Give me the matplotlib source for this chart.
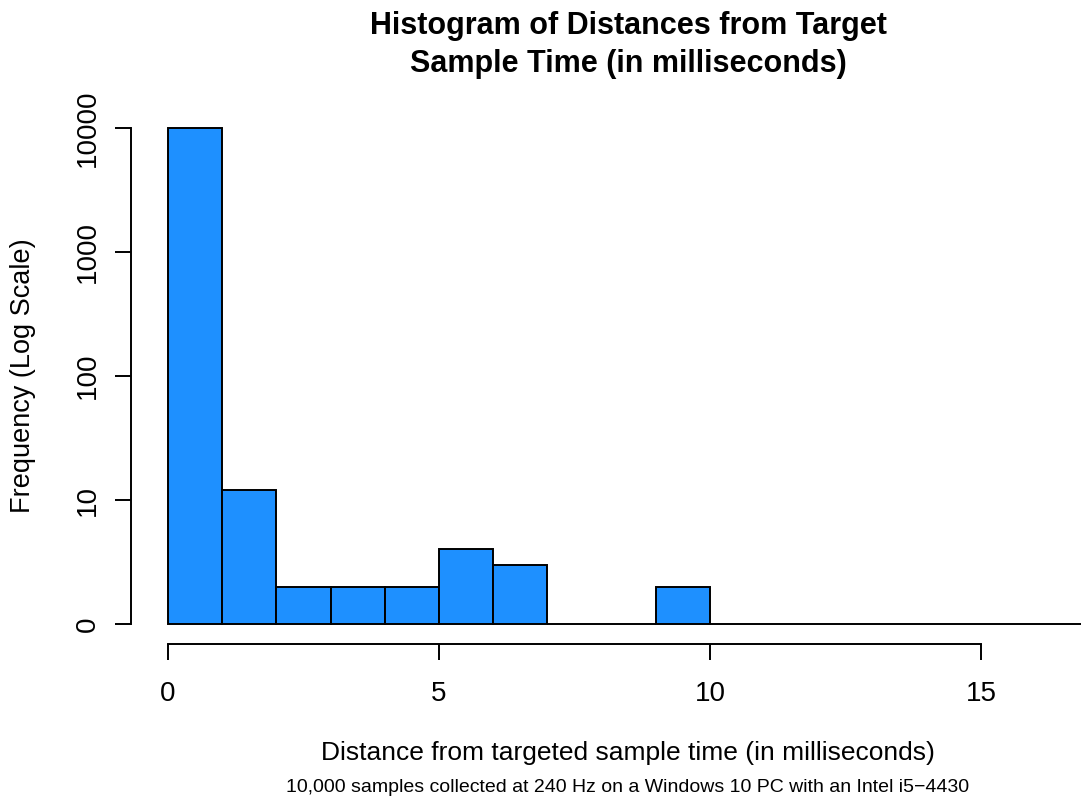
import matplotlib
matplotlib.use("Agg")
import matplotlib.pyplot as plt
import numpy as np

# Histogram data: 1 ms bins from 0 to 17 ms
bin_edges = list(range(0, 18))
counts = [9973, 12, 2, 2, 2, 4, 3, 0, 0, 2, 0, 0, 0, 0, 0, 0, 0]
y_ticks = [0, 1, 2, 3, 4]
y_tick_labels = ["0", "10", "100", "1000", "10000"]
x_ticks = [0, 5, 10, 15]

BAR_COLOR = "#1E90FF"
FONT = "Liberation Sans"

plt.rcParams.update({
    "font.family": FONT,
    "axes.linewidth": 1.4,
})

W, H = 1081, 802
fig = plt.figure(figsize=(W / 100, H / 100), dpi=100)

# Axes in pixel terms: left edge x=131 (data -0.68), 54.2 px per ms
px_per_unit = 54.2
x0 = -0.68
x1 = 17.68
left_px = 168 + x0 * px_per_unit
right_px = 168 + x1 * px_per_unit
y_top_px, y_bot_px = 108, 644
ax = fig.add_axes([left_px / W, (H - y_bot_px) / H,
                   (right_px - left_px) / W, (y_bot_px - y_top_px) / H])

heights = [np.log10(c) if c > 0 else 0 for c in counts]
lefts = bin_edges[:-1]
ax.bar(lefts, heights, width=1, align="edge", color=BAR_COLOR,
       edgecolor="black", linewidth=1.4)

ax.set_xlim(x0, x1)
ax.set_ylim(-0.16, 4.16)

for s in ["top", "right"]:
    ax.spines[s].set_visible(False)
ax.spines["left"].set_bounds(0, 4)
ax.spines["bottom"].set_bounds(0, 15)

ax.set_yticks(y_ticks)
ax.set_yticklabels(y_tick_labels, rotation=90, va="center", fontsize=20)
ax.set_xticks(x_ticks)
ax.set_xticklabels([str(t) for t in x_ticks], fontsize=20)
ax.tick_params(axis="both", length=11.5, width=1.4, direction="out")
ax.tick_params(axis="x", pad=15)
ax.tick_params(axis="y", pad=10)

ax.set_ylabel("Frequency (Log Scale)", fontsize=19.5, labelpad=28)

fig.text(628 / W, 1 - 45 / H, "Histogram of Distances from Target\nSample Time (in milliseconds)",
         ha="center", va="center", fontsize=22, fontweight="bold", linespacing=1.38)
fig.text(628 / W, 1 - 753 / H, "Distance from targeted sample time (in milliseconds)",
         ha="center", va="center", fontsize=19)
fig.text(628 / W, 1 - 787 / H, "10,000 samples collected at 240 Hz on a Windows 10 PC with an Intel i5\u22124430",
         ha="center", va="center", fontsize=14)

fig.savefig("out.png", dpi=100, facecolor="white")
